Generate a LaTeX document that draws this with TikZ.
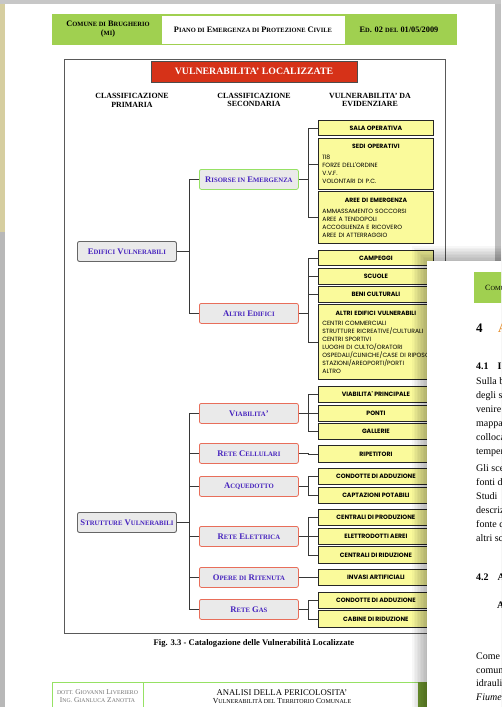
\documentclass[tikz,border=0pt]{standalone}
\usepackage{fontspec}
\setmainfont{Liberation Serif}
\newfontfamily\boxfont{Poppins}
\usetikzlibrary{positioning}
\definecolor{headgreen}{RGB}{160,208,80}
\definecolor{darkgreen}{RGB}{118,160,52}
\definecolor{titlered}{RGB}{214,50,24}
\definecolor{boxyellow}{RGB}{250,250,155}
\definecolor{labelblue}{RGB}{70,35,190}
\definecolor{nodegray}{RGB}{234,234,234}
\definecolor{edgegreen}{RGB}{150,225,100}
\definecolor{edgered}{RGB}{232,110,90}
\definecolor{linegray}{RGB}{55,55,55}
\definecolor{headorange}{RGB}{230,140,40}
\definecolor{mapbeige}{RGB}{214,206,160}
\newcommand{\sm}[1]{\scalebox{0.78}{#1}}

\begin{document}
\begin{tikzpicture}[
    x=1pt, y=-1pt,
    primbox/.style={draw=black!60, line width=0.9pt, rounded corners=2pt, fill=nodegray, minimum width=99pt, minimum height=20pt, inner sep=1pt, anchor=north west, text=labelblue, font=\fontsize{8.6}{10}\selectfont\bfseries},
    secbox/.style={primbox, draw=edgered, line width=0.8pt},
    itembox/.style={draw=black!85, line width=0.8pt, fill=boxyellow, minimum width=115pt, inner sep=0pt, anchor=north west, font=\boxfont\fontsize{6.2}{7}\selectfont\bfseries},
    listbox/.style={itembox, text width=107pt, inner sep=4pt, align=left, font=\boxfont\fontsize{6.1}{8}\selectfont},
    colhead/.style={font=\fontsize{7.9}{8.8}\selectfont\bfseries, align=center},
    branch/.style={draw=linegray, line width=0.75pt},
    bodytext/.style={anchor=base west, inner sep=0pt, font=\fontsize{10}{12}\selectfont},
]
    \useasboundingbox (0,0) rectangle (501,707);
    \clip (0,0) rectangle (501,707);

    % viewer background round the page
    \fill[black!22] (0,0) rectangle (501,3.5);
    \fill[mapbeige] (0,3.5) rectangle (4.5,232);
    \fill[black!28] (0,232) rectangle (4.5,707);
    \fill[black!25] (495,3.5) rectangle (501,707);

    % page header
    \fill[headgreen] (52,14) rectangle (457,45);
    \fill[white] (162,15.5) rectangle (345,43.5);
    \node[font=\fontsize{8.3}{8.8}\selectfont\bfseries, align=center] (comune) at (108,29) {C\sm{OMUNE DI} B\sm{RUGHERIO}\\(\sm{MI})};
    \node[font=\fontsize{8.3}{9}\selectfont\bfseries] (piano) at (253,30) {P\sm{IANO DI} E\sm{MERGENZA DI} P\sm{ROTEZIONE} C\sm{IVILE}};
    \node[font=\fontsize{8.3}{9}\selectfont\bfseries] (edizione) at (399,30) {E\sm{D}. 02 \sm{DEL} 01/05/2009};

    % figure frame and title
    \draw[black!65, line width=0.8pt] (64,59) rectangle (445,633);
    \node[draw=black!70, fill=titlered, minimum width=206pt, minimum height=21pt, text=white, font=\fontsize{9.8}{10}\selectfont\bfseries] (title) at (254,71.5) {VULNERABILITA' LOCALIZZATE};
    \node[colhead] (head1) at (132,100) {CLASSIFICAZIONE\\PRIMARIA};
    \node[colhead] (head2) at (254,100) {CLASSIFICAZIONE\\SECONDARIA};
    \node[colhead] (head3) at (370,100) {VULNERABILITA' DA\\EVIDENZIARE};

    % primary classes
    \node[primbox] (edifici) at (77,241) {E\sm{DIFICI} V\sm{ULNERABILI}};
    \node[primbox] (strutture) at (77,512) {S\sm{TRUTTURE} V\sm{ULNERABILI}};

    % secondary classes
    \node[secbox, draw=edgegreen] (risorse) at (199,169) {R\sm{ISORSE IN} E\sm{MERGENZA}};
    \node[secbox] (altri) at (199,303) {A\sm{LTRI} E\sm{DIFICI}};
    \node[secbox] (viabilita) at (199,403) {V\sm{IABILITA}'};
    \node[secbox] (cellulari) at (199,443) {R\sm{ETE} C\sm{ELLULARI}};
    \node[secbox] (acquedotto) at (199,476) {A\sm{CQUEDOTTO}};
    \node[secbox] (elettrica) at (199,526) {R\sm{ETE} E\sm{LETTRICA}};
    \node[secbox] (ritenuta) at (199,567) {O\sm{PERE DI} R\sm{ITENUTA}};
    \node[secbox] (gas) at (199,599) {R\sm{ETE} G\sm{AS}};

    % items
    \node[itembox, minimum height=15pt] (sala) at (318,120) {SALA OPERATIVA};
    \node[listbox, minimum height=51pt] (sedi) at (318,138) {\makebox[107pt]{\bfseries SEDI OPERATIVI}\\[3pt]
        118\\ FORZE DELL'ORDINE\\ V.V.F.\\ VOLONTARI DI P.C.};
    \node[listbox, minimum height=52pt] (aree) at (318,191) {\makebox[107pt]{\bfseries AREE DI EMERGENZA}\\[3pt]
        AMMASSAMENTO SOCCORSI\\ AREE A TENDOPOLI\\ ACCOGLIENZA E RICOVERO\\ AREE DI ATTERRAGGIO};
    \node[itembox, minimum height=15pt] (campeggi) at (318,250) {CAMPEGGI};
    \node[itembox, minimum height=16pt] (scuole) at (318,268) {SCUOLE};
    \node[itembox, minimum height=16pt] (beni) at (318,286) {BENI CULTURALI};
    \node[listbox, minimum height=75pt] (altrivuln) at (318,304) {\makebox[107pt]{\bfseries ALTRI EDIFICI VULNERABILI}\\[2pt]
        CENTRI COMMERCIALI\\ \mbox{STRUTTURE RICREATIVE/CULTURALI}\\ CENTRI SPORTIVI\\ LUOGHI DI CULTO/ORATORI\\
        \makebox[0pt][l]{OSPEDALI/CLINICHE/CASE DI RIPOSO}\\ STAZIONI/AREOPORTI/PORTI\\ ALTRO};
    \node[itembox, minimum height=16pt] (principale) at (318,386) {VIABILITA' PRINCIPALE};
    \node[itembox, minimum height=16pt] (ponti) at (318,405) {PONTI};
    \node[itembox, minimum height=16pt] (gallerie) at (318,423) {GALLERIE};
    \node[itembox, minimum height=17pt] (ripetitori) at (318,445) {RIPETITORI};
    \node[itembox, minimum height=16pt] (condotte) at (318,468) {CONDOTTE DI ADDUZIONE};
    \node[itembox, minimum height=16pt] (captazioni) at (318,487) {CAPTAZIONI POTABILI};
    \node[itembox, minimum height=16pt] (produzione) at (318,509) {CENTRALI DI PRODUZIONE};
    \node[itembox, minimum height=16pt] (elettrodotti) at (318,528) {ELETTRODOTTI AEREI};
    \node[itembox, minimum height=17pt] (riduzione) at (318,546) {CENTRALI DI RIDUZIONE};
    \node[itembox, minimum height=16pt] (invasi) at (318,569) {INVASI ARTIFICIALI};
    \node[itembox, minimum height=16pt] (condottegas) at (318,592) {CONDOTTE DI ADDUZIONE};
    \node[itembox, minimum height=17pt] (cabine) at (318,610) {CABINE DI RIDUZIONE};

    % tree connectors
    \foreach \c in {risorse,altri}
        \draw[branch] (edifici.east) -- ++(12,0) |- (\c.west);
    \foreach \c in {viabilita,cellulari,acquedotto,elettrica,ritenuta,gas}
        \draw[branch] (strutture.east) -- ++(12,0) |- (\c.west);
    \foreach \p/\c in {risorse/sala,risorse/sedi,risorse/aree,altri/campeggi,altri/scuole,altri/beni,altri/altrivuln,
        viabilita/principale,viabilita/ponti,viabilita/gallerie,cellulari/ripetitori,acquedotto/condotte,acquedotto/captazioni,
        elettrica/produzione,elettrica/elettrodotti,elettrica/riduzione,ritenuta/invasi,gas/condottegas,gas/cabine}
        \draw[branch] (\p.east) -- ++(10,0) |- (\c.west);

    \node[font=\fontsize{8.6}{9}\selectfont\bfseries] (caption) at (254,643) {Fig. 3.3 - Catalogazione delle Vulnerabilità Localizzate};

    % page footer
    \draw[edgegreen, fill=white, line width=0.8pt] (52,682) rectangle (418,712);
    \draw[edgegreen, line width=0.8pt] (143,682) -- (143,712);
    \fill[darkgreen] (418,682) rectangle (430,712);
    \node[text=black!55, font=\fontsize{7.4}{8}\selectfont, align=center] (autori) at (97.5,696) {\sm{DOTT.} G\sm{IOVANNI} L\sm{IVERIERO}\\I\sm{NG.} G\sm{IANLUCA} Z\sm{ANOTTA}};
    \node[font=\fontsize{8.7}{9}\selectfont, align=center] (analisi) at (282,696.5) {ANALISI DELLA PERICOLOSITA'\\[-0.5pt]{\fontsize{7.7}{8}\selectfont V\sm{ULNERABILITÀ DEL} T\sm{ERRITORIO} C\sm{OMUNALE}}};

    % next page lying on top
    \foreach \i in {1,...,10}
        \fill[black, opacity=0.03] (427-1.5*\i,261-1.5*\i) rectangle (505,712);
    \fill[white] (427,261) rectangle (505,712);
    \fill[headgreen] (474,272) rectangle (505,303);
    \node[bodytext, font=\fontsize{8}{9}\selectfont] (com) at (485,290) {C\sm{OMUNE}};
    \node[bodytext, font=\fontsize{13}{14}\selectfont\bfseries] (cap4) at (476,332) {4};
    \node[bodytext, font=\fontsize{13}{14}\selectfont\bfseries, text=headorange] (cap4t) at (498,332) {A};
    \node[bodytext, font=\fontsize{10}{12}\selectfont\bfseries] (cap41) at (476,369) {4.1\hspace{9pt}I};
    \node[bodytext] (r1) at (476,384.5) {Sulla base};
    \node[bodytext] (r2) at (476,398.5) {degli studi};
    \node[bodytext] (r3) at (476,412.5) {venire};
    \node[bodytext] (r4) at (476,426) {mappatura};
    \node[bodytext] (r5) at (476,440) {collocazione};
    \node[bodytext] (r6) at (476,454) {temperature};
    \node[bodytext] (r7) at (476,471.5) {Gli scenari};
    \node[bodytext] (r8) at (476,485.5) {fonti di};
    \node[bodytext] (r9) at (476,499.5) {Studi};
    \node[bodytext] (r10) at (476,513.5) {descrizione};
    \node[bodytext] (r11) at (476,527.5) {fonte di};
    \node[bodytext] (r12) at (476,541.5) {altri scenari};
    \node[bodytext, font=\fontsize{10}{12}\selectfont\bfseries] (cap42) at (476,580) {4.2\hspace{9pt}A};
    \node[bodytext, font=\fontsize{10}{12}\selectfont\bfseries] (cap42b) at (497,608) {A};
    \node[bodytext] (r13) at (476,659.5) {Come \textcolor{headorange}{p}};
    \node[bodytext] (r14) at (476,673) {comunale};
    \node[bodytext] (r15) at (476,686.5) {idraulico};
    \node[bodytext, font=\fontsize{10}{12}\selectfont\itshape] (r16) at (476,700) {Fiume};
\end{tikzpicture}
\end{document}
